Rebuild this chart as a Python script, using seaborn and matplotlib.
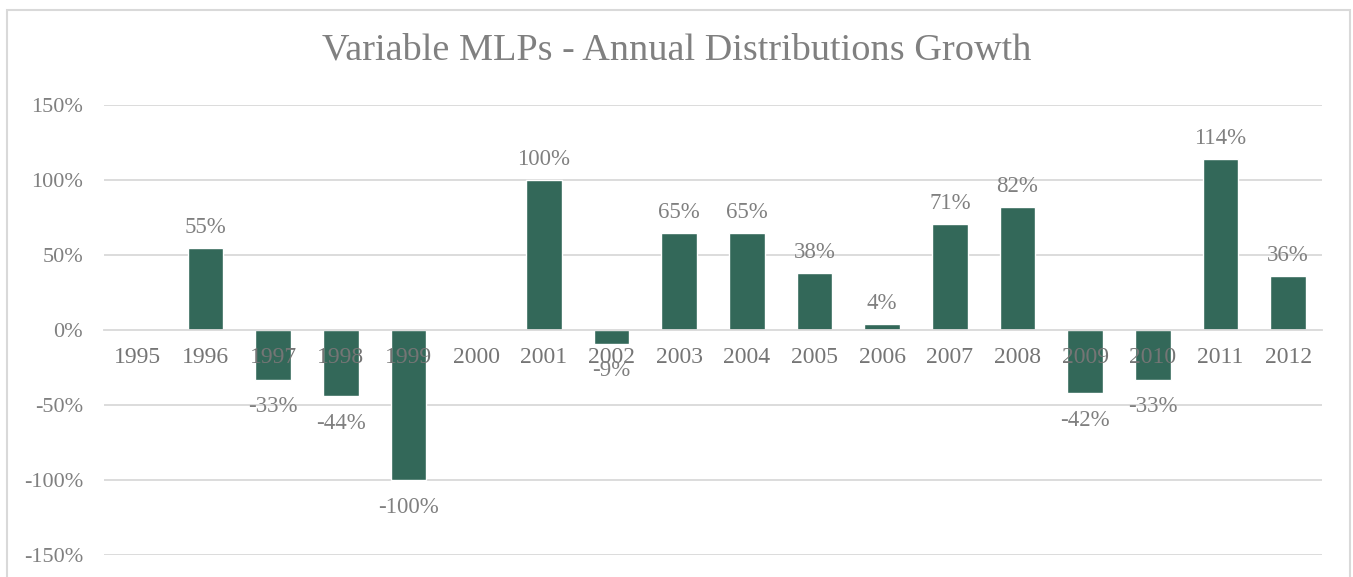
import matplotlib
matplotlib.use("Agg")
import matplotlib.pyplot as plt
import matplotlib.patches as mpatches
from matplotlib.ticker import FixedLocator, FuncFormatter
import seaborn as sns
import pandas as pd

years = ["1995", "1996", "1997", "1998", "1999", "2000", "2001", "2002", "2003",
         "2004", "2005", "2006", "2007", "2008", "2009", "2010", "2011", "2012"]
growth = [0, 55, -33, -44, -100, 0, 100, -9, 65, 65, 38, 4, 71, 82, -42, -33, 114, 36]
yticks = [-150, -100, -50, 0, 50, 100, 150]
title = "Variable MLPs - Annual Distributions Growth"

sns.set_theme(style="white")
plt.rcParams['font.family'] = ['Liberation Serif', 'DejaVu Serif']

bar_color = "#336859"
text_gray = "#808080"
grid_gray = "#d9d9d9"

df = pd.DataFrame({"year": years, "growth": growth})

fig = plt.figure(figsize=(13.53, 5.77), dpi=100)
ax = fig.add_axes([104/1353, 22/577, (1322-104)/1353, (555-105)/577])

sns.barplot(data=df, x="year", y="growth", color=bar_color, width=0.53,
            saturation=1, ax=ax, zorder=1)

ax.set_ylim(-150, 150)
ax.set_xlim(-0.5, len(years) - 0.5)
ax.set_axisbelow(False)
for y in yticks:
    if y != 0:
        ax.axhline(y, color=grid_gray, lw=1.3, zorder=0.5)

for s in ["top", "right", "left"]:
    ax.spines[s].set_visible(False)
ax.spines["bottom"].set_position(("data", 0))
ax.spines["bottom"].set_color(grid_gray)
ax.spines["bottom"].set_linewidth(1.3)

ax.set_yticks(yticks)
ax.yaxis.set_major_formatter(FuncFormatter(lambda v, p: f"{int(v)}%"))
ax.tick_params(axis="y", length=0, pad=15, labelsize=16, labelcolor=text_gray)
ax.tick_params(axis="x", which="major", length=0, pad=12, labelsize=17, labelcolor="#757575")
ax.xaxis.set_minor_locator(FixedLocator([i - 0.5 for i in range(len(years) + 1)]))
ax.tick_params(axis="x", which="minor", length=5, width=1.3, color=grid_gray, direction="out")
ax.set_xlabel("")
ax.set_ylabel("")

for i, v in enumerate(growth):
    if v == 0:
        continue
    if v > 0:
        ax.annotate(f"{v}%", (i, v), xytext=(0, 7), textcoords="offset points",
                    ha="center", va="bottom", fontsize=16.5, color=text_gray, zorder=5)
    else:
        ax.annotate(f"{v}%", (i, v), xytext=(0, -12), textcoords="offset points",
                    ha="center", va="top", fontsize=16.5, color=text_gray, zorder=5)

fig.text(0.5, 1 - 50/577, title, ha="center", va="center", fontsize=27.5, color=text_gray)

border = mpatches.Rectangle((7/1353, -0.1), 1343/1353, (1 - 10/577) + 0.1,
                            transform=fig.transFigure, fill=False,
                            edgecolor=grid_gray, lw=1.5)
fig.patches.append(border)

fig.savefig("out.png", dpi=100)
